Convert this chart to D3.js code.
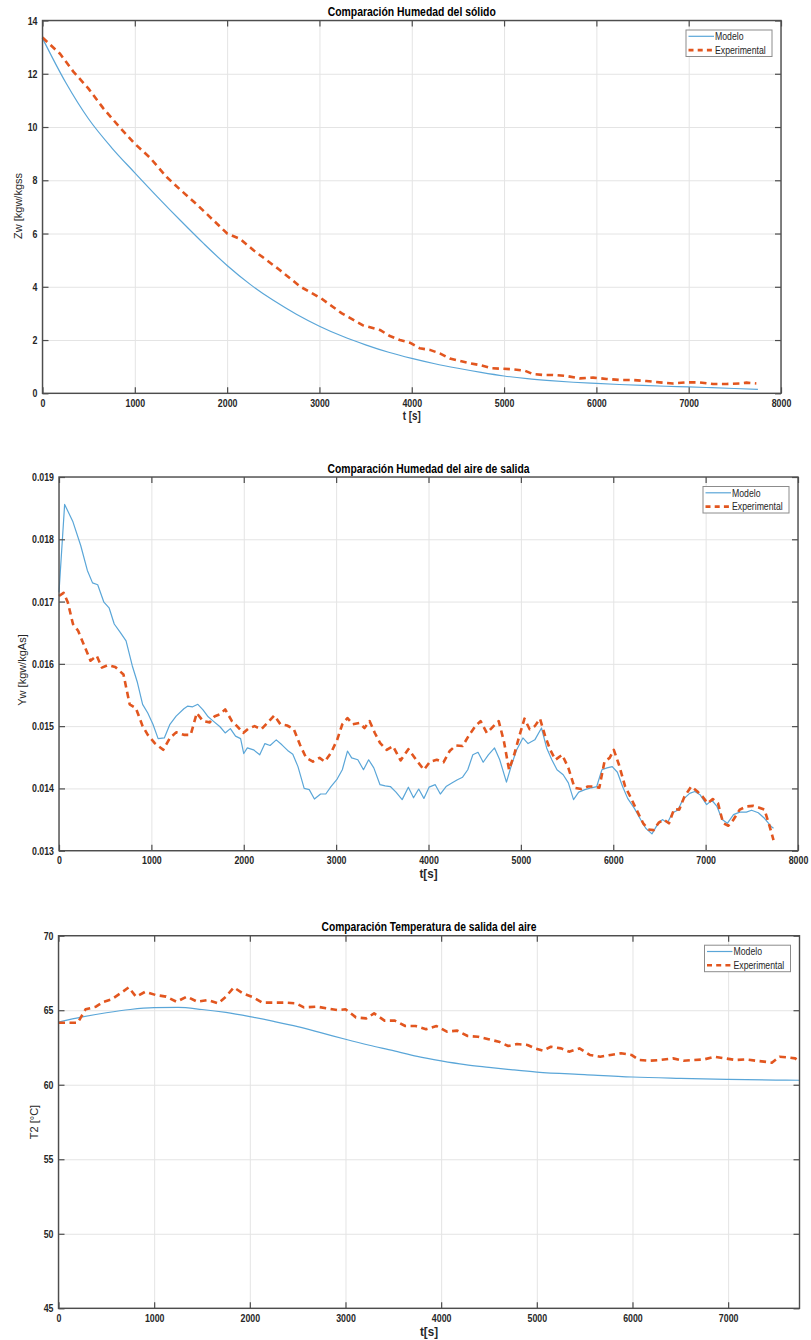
<!DOCTYPE html>
<html>
<head>
<meta charset="utf-8">
<script src="https://cdn.jsdelivr.net/npm/d3@7"></script>
<style>
  html, body { margin: 0; padding: 0; background: #ffffff; }
  svg { display: block; }
  .tick text { font-family: "Liberation Sans Narrow", "Arial Narrow", "Liberation Sans", Arial, sans-serif; font-weight: bold; font-size: 11px; fill: #262626; }
</style>
</head>
<body>
<svg id="fig" width="811" height="1340"></svg>
<script>
// ---------- Panel 1: Humedad del sólido ----------
const zwModeloT = [0,250,500,750,1000,1250,1500,1750,2000,2250,2500,2750,3000,3250,3500,3750,4000,4250,4500,4750,5000,5250,5500,5750,6000,6250,6500,6750,7000,7250,7500,7750];
const zwModelo  = [13.33,11.68,10.3,9.22,8.28,7.36,6.47,5.61,4.8,4.09,3.49,2.97,2.52,2.14,1.82,1.54,1.31,1.11,0.94,0.785,0.65,0.55,0.475,0.415,0.37,0.33,0.295,0.265,0.24,0.21,0.18,0.15];
const zwExpT = [0,190,334,496,659,821,994,1164,1345,1507,1670,1850,2001,2139,2283,2428,2570,2795,3017,3243,3467,3655,3763,3871,3979,4087,4196,4304,4412,4520,4629,4737,4864,4990,5098,5225,5315,5423,5531,5676,5820,5964,6109,6253,6397,6542,6686,6830,6975,7119,7264,7408,7552,7625,7733];
const zwExp  = [13.36,12.75,12.08,11.45,10.7,10.05,9.39,8.85,8.12,7.6,7.1,6.5,6.0,5.8,5.38,5.0,4.63,4.0,3.57,3.0,2.56,2.38,2.15,2.0,1.9,1.69,1.63,1.5,1.31,1.22,1.13,1.06,0.94,0.92,0.9,0.85,0.72,0.69,0.69,0.65,0.56,0.59,0.54,0.5,0.5,0.46,0.41,0.37,0.41,0.41,0.35,0.35,0.37,0.4,0.37];

// ---------- Panel 2: Humedad del aire de salida ----------
const ywModeloT = [0,61,151,235,307,363,419,486,542,598,665,726,793,849,905,961,1017,1073,1140,1201,1268,1352,1391,1447,1503,1559,1615,1670,1743,1799,1855,1911,1966,2000,2039,2106,2173,2229,2285,2352,2413,2475,2531,2587,2654,2709,2765,2832,2888,2944,3011,3067,3123,3168,3235,3296,3352,3408,3475,3531,3587,3648,3715,3782,3838,3894,3950,4006,4073,4128,4190,4257,4313,4369,4425,4480,4536,4592,4648,4715,4771,4844,4899,4955,5022,5078,5151,5223,5279,5335,5391,5458,5514,5570,5626,5693,5765,5821,5877,5933,5989,6045,6101,6156,6229,6296,6352,6419,6475,6531,6587,6642,6698,6754,6827,6883,6939,7011,7067,7123,7179,7235,7302,7369,7441,7497,7570,7637,7709,7735];
const ywModelo  = [0.01715,0.01856,0.01828,0.0179,0.0175,0.0173,0.01727,0.01699,0.0169,0.01664,0.0165,0.01637,0.01597,0.0157,0.01535,0.01521,0.01503,0.0148,0.01481,0.01503,0.01516,0.01528,0.01532,0.01531,0.01535,0.01526,0.01515,0.01508,0.01499,0.01489,0.01496,0.01484,0.0148,0.01456,0.01465,0.01462,0.01454,0.01472,0.01469,0.01478,0.0147,0.01461,0.01455,0.01435,0.014,0.01398,0.01383,0.01391,0.01391,0.01403,0.01415,0.0143,0.0146,0.01449,0.01446,0.0143,0.01446,0.01433,0.01406,0.01404,0.01403,0.01394,0.01382,0.01402,0.01385,0.01399,0.01384,0.01402,0.01406,0.01391,0.01403,0.01409,0.01414,0.01418,0.0143,0.01454,0.01458,0.01442,0.01454,0.01465,0.01446,0.0141,0.01438,0.01462,0.01481,0.01472,0.01478,0.01497,0.01465,0.01446,0.0143,0.01422,0.01409,0.01382,0.01394,0.01398,0.01401,0.01403,0.0143,0.01433,0.01435,0.01426,0.01403,0.01384,0.01368,0.0135,0.01336,0.01327,0.01341,0.0135,0.01345,0.01361,0.01365,0.01382,0.01392,0.01395,0.0139,0.01374,0.01381,0.01371,0.0135,0.01344,0.01358,0.01362,0.01362,0.01365,0.01361,0.01352,0.01339,0.01336];
const ywExpT = [0,50,95,151,207,274,341,408,464,531,609,698,765,832,905,961,1034,1128,1201,1268,1352,1425,1492,1559,1632,1687,1743,1799,1872,1927,1994,2050,2117,2190,2262,2330,2397,2469,2542,2609,2676,2749,2821,2877,2944,3011,3067,3123,3179,3251,3307,3363,3419,3475,3547,3615,3698,3782,3866,3950,4017,4089,4162,4229,4296,4369,4441,4508,4564,4631,4704,4760,4816,4872,4927,4983,5039,5095,5151,5207,5263,5318,5374,5447,5514,5581,5654,5726,5793,5849,5905,5961,6006,6062,6129,6184,6251,6324,6380,6436,6492,6547,6603,6659,6715,6771,6844,6911,6966,7022,7078,7134,7190,7246,7302,7369,7441,7514,7581,7637,7693,7735];
const ywExp  = [0.01709,0.01714,0.01699,0.01664,0.01653,0.01629,0.01605,0.01613,0.01594,0.01598,0.01595,0.01583,0.01535,0.01529,0.015,0.01486,0.01473,0.01462,0.01481,0.0149,0.01486,0.01486,0.01521,0.01508,0.01506,0.01516,0.01519,0.01527,0.01508,0.015,0.01489,0.01496,0.015,0.01495,0.01506,0.01517,0.01503,0.01501,0.01495,0.0147,0.01449,0.01443,0.01449,0.01443,0.01457,0.01478,0.01503,0.01513,0.01503,0.01505,0.01497,0.01508,0.01489,0.01473,0.01462,0.01468,0.01445,0.01463,0.01446,0.0143,0.01443,0.01446,0.01442,0.0146,0.01469,0.01468,0.01486,0.015,0.01508,0.01489,0.015,0.01508,0.01476,0.0143,0.01454,0.01484,0.01512,0.01495,0.015,0.01512,0.01484,0.01462,0.01446,0.01454,0.01433,0.01401,0.01399,0.01403,0.01403,0.01401,0.01443,0.01449,0.01462,0.01438,0.01403,0.01387,0.01366,0.01344,0.01334,0.01333,0.01345,0.0135,0.01344,0.01367,0.01366,0.01387,0.01403,0.01395,0.01387,0.01376,0.01383,0.01376,0.01344,0.0134,0.0135,0.01366,0.01371,0.01372,0.01369,0.01366,0.01339,0.01317];

// ---------- Panel 3: Temperatura de salida del aire ----------
const t2ModeloT = [0,250,500,750,1000,1250,1500,1750,2000,2250,2500,2750,3000,3250,3500,3750,4000,4250,4500,4750,5000,5500,6000,6500,7000,7500,7746];
const t2Modelo  = [64.2,64.55,64.83,65.05,65.17,65.19,65.05,64.85,64.57,64.25,63.9,63.48,63.05,62.65,62.29,61.9,61.6,61.35,61.17,61.0,60.85,60.68,60.52,60.43,60.36,60.31,60.3];
const t2ExpT = [0,201,283,391,473,554,647,734,810,908,1016,1125,1234,1342,1451,1560,1668,1750,1832,1929,2038,2130,2239,2364,2484,2565,2701,2810,2918,3000,3109,3217,3299,3408,3516,3625,3734,3842,3951,4060,4168,4277,4386,4495,4603,4701,4793,4902,4984,5065,5147,5255,5337,5446,5554,5663,5772,5880,5989,6071,6179,6288,6424,6533,6641,6750,6859,6967,7076,7185,7293,7375,7457,7538,7620,7701,7746];
const t2Exp  = [64.16,64.16,65.06,65.24,65.57,65.73,66.13,66.53,65.91,66.24,66.02,65.91,65.57,65.91,65.57,65.68,65.46,65.91,66.53,66.13,65.86,65.51,65.51,65.51,65.46,65.19,65.24,65.12,65.01,65.06,64.52,64.45,64.79,64.3,64.3,63.94,63.94,63.72,63.94,63.56,63.63,63.27,63.22,63.05,62.89,62.6,62.73,62.67,62.44,62.29,62.55,62.44,62.22,62.44,62.0,61.88,62.0,62.11,62.0,61.66,61.61,61.66,61.77,61.61,61.66,61.7,61.88,61.77,61.66,61.7,61.61,61.55,61.48,61.88,61.84,61.77,61.55];

// Axis tick values
const xTicks8000 = [0,1000,2000,3000,4000,5000,6000,7000,8000];
const xTicks7000 = [0,1000,2000,3000,4000,5000,6000,7000];
const zwTicks = [0,2,4,6,8,10,12,14];
const ywTicks = [0.013,0.014,0.015,0.016,0.017,0.018,0.019];
const t2Ticks = [45,50,55,60,65,70];

const legendNames = ["Modelo", "Experimental"];

const COLOR_MODEL = "#5aa6d8";
const COLOR_EXP = "#e2561f";
const AXIS_COLOR = "#4d4d4d";
const GRID_COLOR = "#e4e4e4";
const NARROW = '"Liberation Sans Narrow", "Arial Narrow", "Liberation Sans", Arial, sans-serif';
const REGULAR = '"Liberation Sans", Arial, sans-serif';

const svg = d3.select("#fig");

// squeeze text horizontally to a narrow face
function condense(sel, factor) {
  sel.each(function () {
    const len = this.getComputedTextLength();
    if (len > 0) {
      d3.select(this).attr("textLength", len * factor).attr("lengthAdjust", "spacingAndGlyphs");
    }
  });
}

function drawPanel(p) {
  const x = d3.scaleLinear().domain(p.xDomain).range([p.left, p.right]);
  const y = d3.scaleLinear().domain(p.yDomain).range([p.bottom, p.top]);
  const w = p.right - p.left, h = p.bottom - p.top;
  const g = svg.append("g");

  // grid
  g.append("g").attr("transform", `translate(0,${p.top})`)
    .call(d3.axisBottom(x).tickValues(p.xTicks).tickSize(h).tickFormat(""))
    .call(a => a.select(".domain").remove())
    .call(a => a.selectAll("line").attr("stroke", GRID_COLOR).attr("stroke-width", 1));
  g.append("g").attr("transform", `translate(${p.left},0)`)
    .call(d3.axisRight(y).tickValues(p.yTicks).tickSize(w).tickFormat(""))
    .call(a => a.select(".domain").remove())
    .call(a => a.selectAll("line").attr("stroke", GRID_COLOR).attr("stroke-width", 1));

  // series
  const modelLine = d3.line().x(d => x(d[0])).y(d => y(d[1])).curve(p.modelCurve);
  const expLine = d3.line().x(d => x(d[0])).y(d => y(d[1]));
  g.append("path").datum(d3.zip(p.modelT, p.model))
    .attr("d", modelLine).attr("fill", "none")
    .attr("stroke", COLOR_MODEL).attr("stroke-width", 1.2).attr("stroke-linejoin", "round");
  g.append("path").datum(d3.zip(p.expT, p.exp))
    .attr("d", expLine).attr("fill", "none")
    .attr("stroke", COLOR_EXP).attr("stroke-width", 2.6)
    .attr("stroke-dasharray", "6.5,4.5").attr("stroke-linejoin", "round");

  // axes (ticks pointing inward on all four sides)
  const styleAxis = a => {
    a.select(".domain").remove();
    a.selectAll(".tick line").attr("stroke", AXIS_COLOR).attr("stroke-width", 1.2);
  };
  g.append("g").attr("transform", `translate(0,${p.bottom})`)
    .call(d3.axisBottom(x).tickValues(p.xTicks).tickSize(-6).tickPadding(6).tickFormat(d3.format("d")))
    .call(styleAxis);
  g.append("g").attr("transform", `translate(0,${p.top})`)
    .call(d3.axisTop(x).tickValues(p.xTicks).tickSize(-6).tickFormat(""))
    .call(styleAxis);
  g.append("g").attr("transform", `translate(${p.left},0)`)
    .call(d3.axisLeft(y).tickValues(p.yTicks).tickSize(-6).tickPadding(5).tickFormat(p.yFormat))
    .call(styleAxis);
  g.append("g").attr("transform", `translate(${p.right},0)`)
    .call(d3.axisRight(y).tickValues(p.yTicks).tickSize(-6).tickFormat(""))
    .call(styleAxis);
  g.selectAll(".tick text").attr("font-family", null).attr("font-size", null)
    .filter(function () { return this.textContent !== ""; })
    .call(condense, 0.8);

  g.append("rect").attr("x", p.left).attr("y", p.top).attr("width", w).attr("height", h)
    .attr("fill", "none").attr("stroke", AXIS_COLOR).attr("stroke-width", 1.4);

  // title
  g.append("text").attr("x", (p.left + p.right) / 2).attr("y", p.top - 4.5)
    .attr("text-anchor", "middle").attr("font-family", NARROW).attr("font-weight", "bold")
    .attr("font-size", 12).attr("fill", "#000")
    .attr("textLength", p.titleWidth).attr("lengthAdjust", "spacingAndGlyphs")
    .text(p.title);

  // axis labels
  g.append("text").attr("x", (p.left + p.right) / 2).attr("y", p.bottom + p.xLabelDy)
    .attr("text-anchor", "middle").attr("font-family", NARROW).attr("font-weight", "bold")
    .attr("font-size", 13).attr("fill", "#262626")
    .attr("textLength", 18).attr("lengthAdjust", "spacingAndGlyphs")
    .text(p.xLabel);
  g.append("text").attr("transform", `translate(${p.yLabelX},${p.yLabelY}) rotate(-90)`)
    .attr("text-anchor", "middle").attr("dy", "0.35em").attr("font-family", REGULAR)
    .attr("font-size", 11).attr("fill", "#262626").text(p.yLabel);

  // legend
  const lw = 86, lh = 26.5;
  const lx = p.right - 9 - lw, ly = p.top + 9.5;
  const lg = g.append("g").attr("transform", `translate(${lx},${ly})`);
  lg.append("rect").attr("width", lw).attr("height", lh)
    .attr("fill", "#fff").attr("stroke", "#8c8c8c").attr("stroke-width", 1);
  const rows = [
    {name: legendNames[0], color: COLOR_MODEL, sw: 1.2, dash: null},
    {name: legendNames[1], color: COLOR_EXP, sw: 2.6, dash: "5,4.2"}
  ];
  rows.forEach((r, i) => {
    const yy = 6.3 + i * 13.8;
    lg.append("line").attr("x1", 2.5).attr("x2", 28).attr("y1", yy).attr("y2", yy)
      .attr("stroke", r.color).attr("stroke-width", r.sw).attr("stroke-dasharray", r.dash);
    lg.append("text").attr("x", 29).attr("y", yy).attr("dy", "0.35em")
      .attr("font-family", NARROW).attr("font-size", 11).attr("fill", "#262626").text(r.name)
      .call(condense, 0.79);
  });
}

drawPanel({
  left: 42.5, right: 781, top: 20.5, bottom: 393.3,
  xDomain: [0, 8000], yDomain: [0, 14], xTicks: xTicks8000, yTicks: zwTicks,
  yFormat: d3.format("d"), modelCurve: d3.curveMonotoneX,
  modelT: zwModeloT, model: zwModelo, expT: zwExpT, exp: zwExp,
  title: "Comparación Humedad del sólido", titleWidth: 168,
  xLabel: "t [s]", xLabelDy: 27, yLabel: "Zw [kgw/kgss", yLabelX: 18, yLabelY: 206
});

drawPanel({
  left: 59, right: 798, top: 477, bottom: 850.7,
  xDomain: [0, 8000], yDomain: [0.013, 0.019], xTicks: xTicks8000, yTicks: ywTicks,
  yFormat: d3.format(".3f"), modelCurve: d3.curveLinear,
  modelT: ywModeloT, model: ywModelo, expT: ywExpT, exp: ywExp,
  title: "Comparación Humedad del aire de salida", titleWidth: 202,
  xLabel: "t[s]", xLabelDy: 27, yLabel: "Yw [kgw/kgAs]", yLabelX: 22, yLabelY: 670
});

drawPanel({
  left: 58.5, right: 799.5, top: 935.7, bottom: 1308.3,
  xDomain: [0, 7746], yDomain: [45, 70], xTicks: xTicks7000, yTicks: t2Ticks,
  yFormat: d3.format("d"), modelCurve: d3.curveMonotoneX,
  modelT: t2ModeloT, model: t2Modelo, expT: t2ExpT, exp: t2Exp,
  title: "Comparación Temperatura de salida del aire", titleWidth: 215,
  xLabel: "t[s]", xLabelDy: 28, yLabel: "T2 [°C]", yLabelX: 34, yLabelY: 1122
});
</script>
</body>
</html>
